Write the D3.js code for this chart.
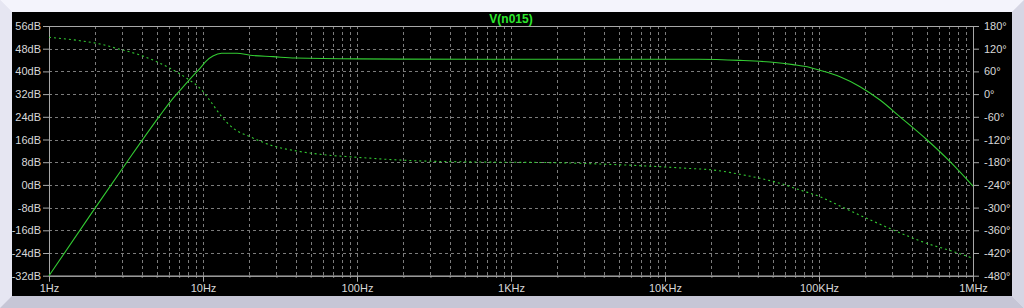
<!DOCTYPE html>
<html>
  <head>
    <meta http-equiv="Content-Type" content="text/html;charset=utf-8"/>
    <script type="text/javascript" src="https://cdn.jsdelivr.net/npm/d3@7"></script>
    <style type="text/css">
      html, body { margin: 0; padding: 0; background: #ececf6; }
      text { font-family: "Liberation Sans", Arial, sans-serif; }
      .tick text { fill: #d8d8d8; font-size: 11px; }
      .title { fill: #2ee82e; font-size: 12px; font-weight: bold; }
    </style>
  </head>
  <body>
    <svg id="con"></svg>
    <script type="text/javascript">

    // magnitude trace (solid)
    var magFreq = [1, 1.99, 3.2, 5.26, 6.107, 7.09, 8.23, 9.56, 10.57, 11.6, 13.2, 16.6,
                   20.2, 28.5, 39.6, 100, 629, 16370, 30690, 48060, 67800, 87460, 101500, 136900,
                   184700, 249000, 335800, 500000, 709600, 1000000];
    var magDb   = [-32, -8.2, 8.0, 24.5, 29.2, 33.3, 37.3, 41.1, 43.8, 45.4, 46.4, 46.4,
                   45.7, 45.2, 44.7, 44.4, 44.3, 44.3, 43.9, 43.3, 42.4, 41.4, 40.4, 38.1,
                   34.6, 29.9, 24.0, 16.0, 8.2, -0.4];

    // phase trace (dotted)
    var phaseFreq = [1, 1.589, 2.144, 2.891, 3.898, 5.005, 6.107, 7.839, 9.81, 11.39, 13.22, 15.73, 20.2,
                     28.6, 40.6, 57.5, 100, 231, 629, 1982, 3784, 7605, 13830, 20500, 30690, 41400, 55830,
                     75300, 101500, 136900, 204000, 303700, 500000, 709600, 1000000];
    var phaseDeg  = [150.1, 141.1, 132.4, 118.4, 103.3, 85.6, 68.2, 41.8, 10.8, -23.5, -59.7, -90.4, -112.6,
                     -137.2, -150.4, -159.1, -167, -176, -179.5, -181.3, -184.8, -190, -196.1, -200.6, -212, -222.6, -235.8,
                     -253.5, -271.2, -295.8, -328.3, -359.2, -394.4, -413.4, -434];

    var dbTicks = [56, 48, 40, 32, 24, 16, 8, 0, -8, -16, -24, -32];
    var degTicks = [180, 120, 60, 0, -60, -120, -180, -240, -300, -360, -420, -480];
    var freqTicks = [1, 10, 100, 1000, 10000, 100000, 1000000];
    var freqLabels = ["1Hz", "10Hz", "100Hz", "1KHz", "10KHz", "100KHz", "1MHz"];
    var traceName = "V(n015)";

    var W = 1024, H = 308;
    var pl = 49, pr = 973, pt = 26, pb = 275.7;

    var svg = d3.select("#con").attr("width", W).attr("height", H);

    // beveled window frame
    var frame = svg.append("g");
    frame.append("rect").attr("width", W).attr("height", H).attr("fill", "#e6e6f2");
    frame.append("polygon").attr("points", "0,0 1024,0 1012,12 12,12").attr("fill", "#f4f4fc");
    frame.append("polygon").attr("points", "0,0 12,12 12,296 0,308").attr("fill", "#e6e6f2");
    frame.append("polygon").attr("points", "0,308 12,296 1012,296 1024,308").attr("fill", "#c6c6d6");
    frame.append("polygon").attr("points", "1024,0 1024,308 1012,296 1012,12").attr("fill", "#d6d6e4");
    frame.append("rect").attr("x", 12).attr("y", 12).attr("width", 1000).attr("height", 284).attr("fill", "#000");

    var x = d3.scaleLog().domain([1, 1e6]).range([pl, pr]);
    var yL = d3.scaleLinear().domain([-32, 56]).range([pb, pt]);
    var yR = d3.scaleLinear().domain([-480, 180]).range([pb, pt]);

    // grid
    var minor = [];
    for (var n = 0; n < 6; n++) {
      for (var k = 1; k < 10; k++) {
        var f = k * Math.pow(10, n);
        if (f > 1) minor.push(f);
      }
    }
    var grid = svg.append("g").attr("stroke", "#7c7c7c").attr("stroke-dasharray", "3,3").attr("stroke-width", 1);
    grid.selectAll(".vg").data(minor).enter().append("line")
        .attr("x1", function(d) { return Math.round(x(d)) + 0.5; })
        .attr("x2", function(d) { return Math.round(x(d)) + 0.5; })
        .attr("y1", pt).attr("y2", pb);
    grid.selectAll(".hg").data(dbTicks.slice(1, -1)).enter().append("line")
        .attr("x1", pl).attr("x2", pr)
        .attr("y1", function(d) { return Math.round(yL(d)) + 0.5; })
        .attr("y2", function(d) { return Math.round(yL(d)) + 0.5; });

    // axes
    function styleAxis(g) {
      g.selectAll("path.domain").attr("stroke", "#a8a8a8");
      g.selectAll(".tick line").attr("stroke", "#a8a8a8");
    }
    svg.append("g").attr("transform", "translate(" + pl + ",0)")
        .call(d3.axisLeft(yL).tickValues(dbTicks).tickSize(6).tickSizeOuter(0).tickPadding(2)
          .tickFormat(function(d) { return d + "dB"; }))
        .call(styleAxis);
    svg.append("g").attr("transform", "translate(" + pr + ",0)")
        .call(d3.axisRight(yR).tickValues(degTicks).tickSize(6).tickSizeOuter(0).tickPadding(5)
          .tickFormat(function(d) { return d + "°"; }))
        .call(styleAxis);
    svg.append("g").attr("transform", "translate(0," + pb + ")")
        .call(d3.axisBottom(x).tickValues(minor).tickSize(2).tickSizeOuter(0).tickFormat(""))
        .call(styleAxis);
    svg.append("g").attr("transform", "translate(0," + pb + ")")
        .call(d3.axisBottom(x).tickValues(freqTicks).tickSize(6).tickSizeOuter(0).tickPadding(3)
          .tickFormat(function(d, i) { return freqLabels[i]; }))
        .call(styleAxis);
    svg.selectAll(".tick text").attr("fill", "#d8d8d8").style("font-size", "11px")
        .style("font-family", "'Liberation Sans', Arial, sans-serif");
    // top border
    svg.append("line").attr("x1", pl).attr("x2", pr).attr("y1", pt + 0.5).attr("y2", pt + 0.5)
        .attr("stroke", "#a8a8a8");

    svg.append("text").attr("class", "title").attr("x", (pl + pr) / 2).attr("y", 23)
        .attr("text-anchor", "middle").text(traceName);

    // traces
    var magLine = d3.line()
        .x(function(d) { return x(d[0]); })
        .y(function(d) { return yL(d[1]); })
        .curve(d3.curveMonotoneX);
    var phaseLine = d3.line()
        .x(function(d) { return x(d[0]); })
        .y(function(d) { return yR(d[1]); })
        .curve(d3.curveMonotoneX);

    svg.append("path").datum(d3.zip(magFreq, magDb))
        .attr("d", magLine).attr("fill", "none").attr("stroke", "#33cc33").attr("stroke-width", 1.1);
    svg.append("path").datum(d3.zip(phaseFreq, phaseDeg))
        .attr("d", phaseLine).attr("fill", "none").attr("stroke", "#33cc33").attr("stroke-width", 1.1)
        .attr("stroke-dasharray", "2,3");

    </script>
  </body>
</html>
